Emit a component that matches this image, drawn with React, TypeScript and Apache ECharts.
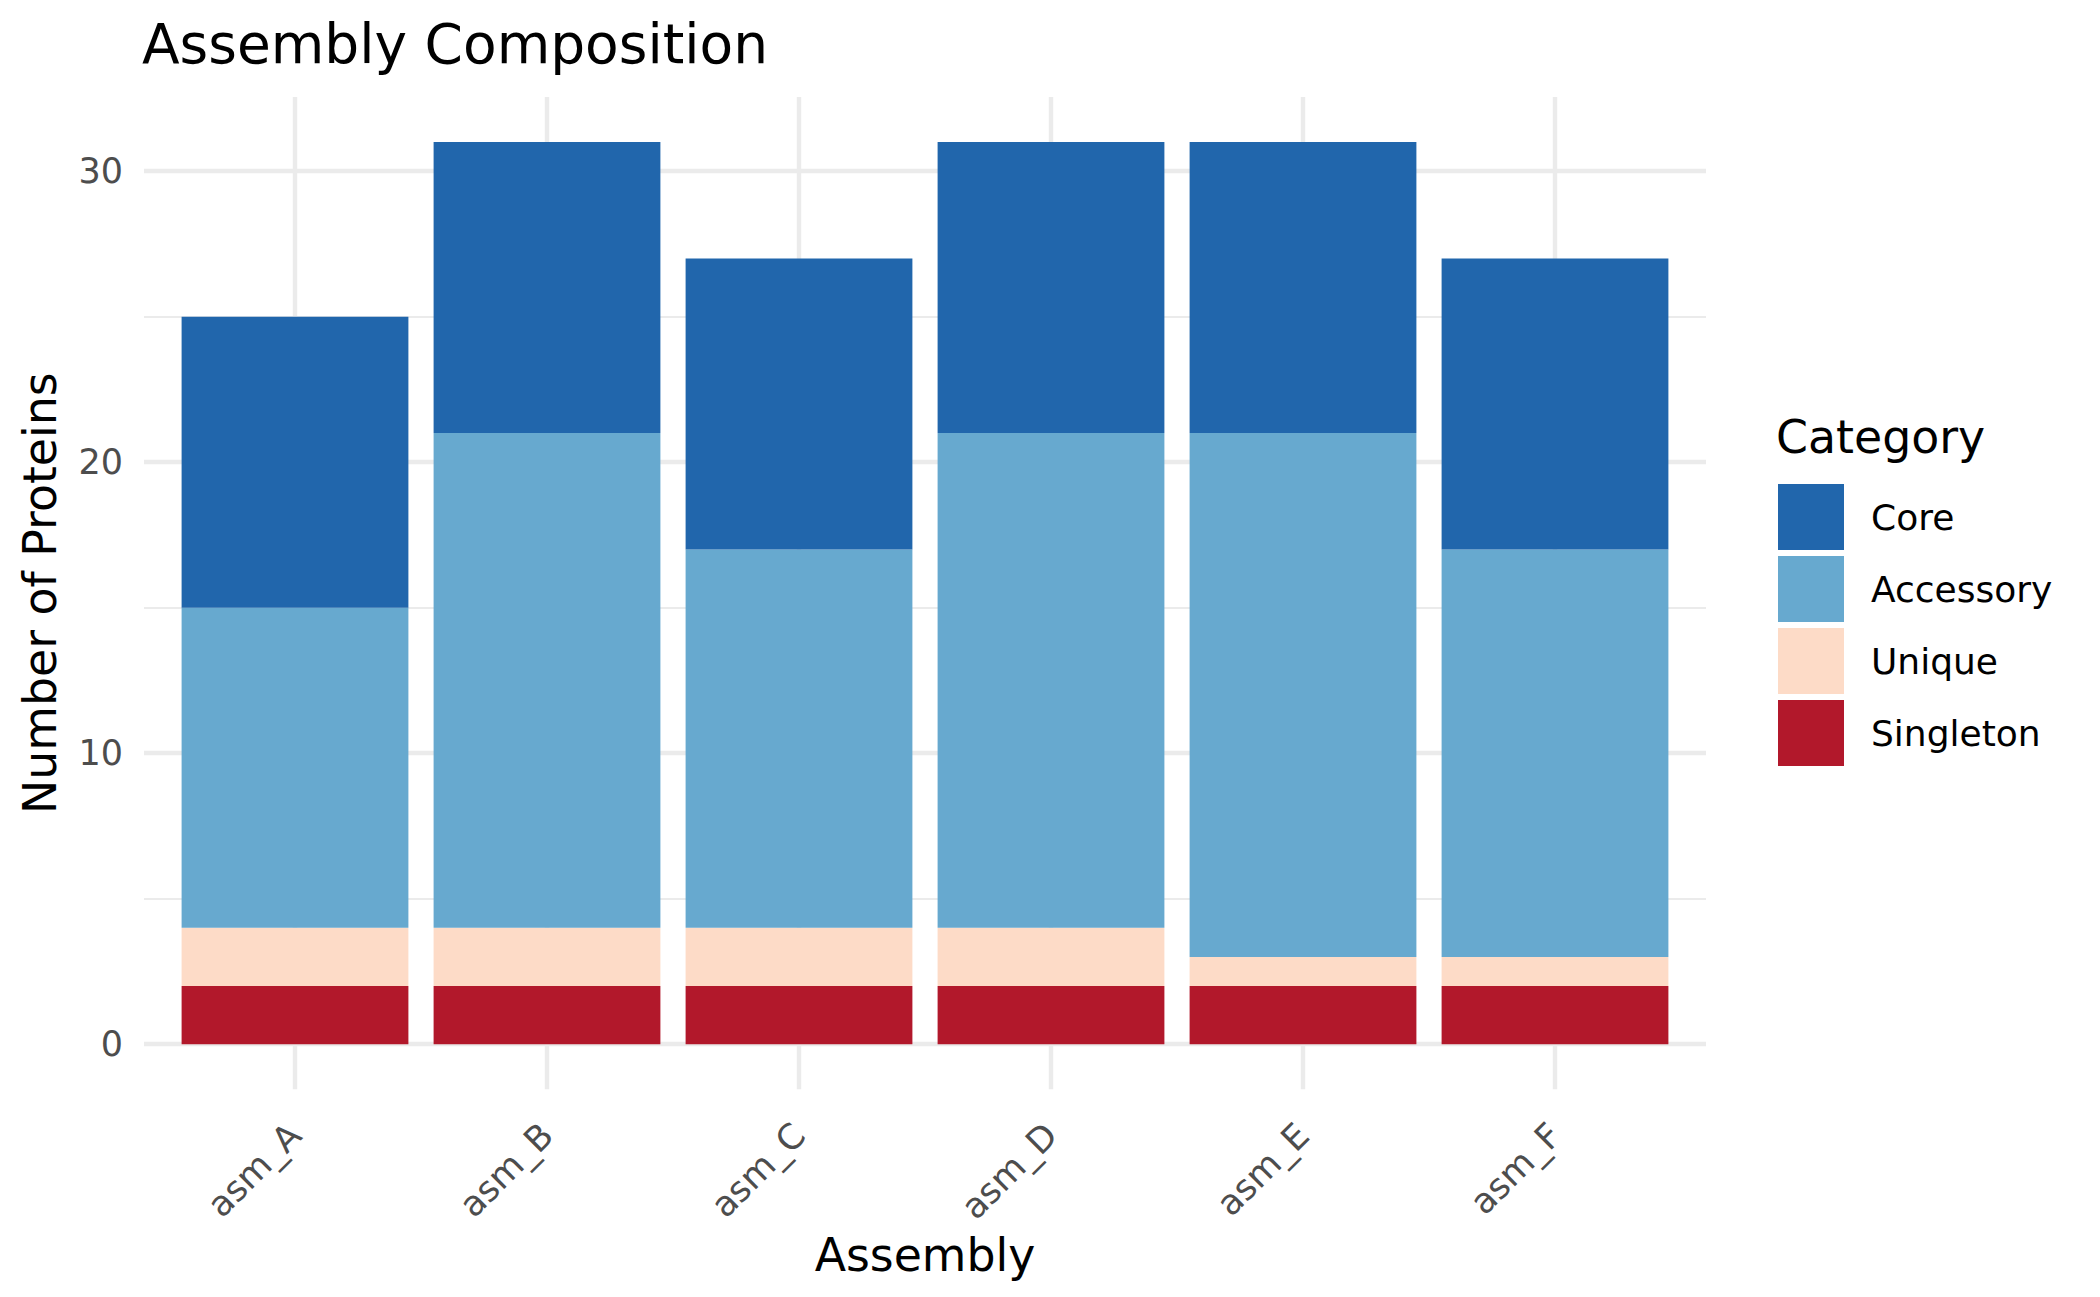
import React, { useEffect, useRef } from 'react';
import * as echarts from 'echarts';

const categories = ['asm_A', 'asm_B', 'asm_C', 'asm_D', 'asm_E', 'asm_F'];
const singleton = [2, 2, 2, 2, 2, 2];
const unique = [2, 2, 2, 2, 1, 1];
const accessory = [11, 17, 13, 17, 18, 14];
const core = [10, 10, 10, 10, 10, 10];
const legendOrder = ['Core', 'Accessory', 'Unique', 'Singleton'];
const colors: Record<string, string> = {
  Core: '#2166AC',
  Accessory: '#67A9CF',
  Unique: '#FDDBC7',
  Singleton: '#B2182B',
};

const FONT = 'DejaVu Sans';
const GRID_COLOR = '#EBEBEB';

export default function App() {
  const ref = useRef<HTMLDivElement>(null);
  useEffect(() => {
    if (!ref.current) return;
    const chart = echarts.init(ref.current, undefined, { renderer: 'svg' });
    const totals = categories.map((_, i) => singleton[i] + unique[i] + accessory[i] + core[i]);
    const maxTotal = Math.max(...totals);
    const yMax = maxTotal * 1.05;
    const yMin = -maxTotal * 0.05;

    const top = 97;
    const unit = 29.1;
    const zeroY = top + yMax * unit;
    const bottomY = zeroY - yMin * unit;
    const H = 1297;
    const W = 2100;

    const mk = (name: string, data: number[]) => ({
      name,
      type: 'bar',
      stack: 'total',
      xAxisIndex: 1,
      yAxisIndex: 2,
      barWidth: '90%',
      data,
      itemStyle: { color: colors[name] },
      emphasis: { disabled: true },
    });

    chart.setOption({
      animation: false,
      backgroundColor: '#FFFFFF',
      title: [
        {
          text: 'Assembly Composition',
          left: 142,
          top: 16.5,
          padding: 0,
          textStyle: { fontFamily: FONT, fontSize: 55, fontWeight: 'normal', color: '#000000' },
        },
        {
          text: 'Category',
          left: 1776,
          top: 414,
          padding: 0,
          textStyle: { fontFamily: FONT, fontSize: 45.8, fontWeight: 'normal', color: '#000000' },
        },
      ],
      legend: {
        data: legendOrder,
        orient: 'vertical',
        left: 1778,
        top: 484,
        padding: 0,
        itemWidth: 66,
        itemHeight: 66,
        itemGap: 6,
        icon: 'rect',
        selectedMode: false,
        textStyle: { fontFamily: FONT, fontSize: 36, color: '#000000', padding: [0, 0, 0, 22] },
      },
      grid: [
        { left: 144, right: W - 1706, top, bottom: H - zeroY, containLabel: false },
        { left: 169, right: W - 1681, top, bottom: H - bottomY, containLabel: false },
      ],
      xAxis: [
        { type: 'value', gridIndex: 0, min: 0, max: 1, show: false },
        {
          type: 'category',
          gridIndex: 1,
          data: categories,
          position: 'bottom',
          name: 'Assembly',
          nameLocation: 'middle',
          nameGap: 137,
          nameTextStyle: { fontFamily: FONT, fontSize: 45.8, color: '#000000' },
          axisLine: { show: false, onZero: false },
          axisTick: {
            show: true,
            alignWithLabel: true,
            inside: true,
            interval: 0,
            length: bottomY - top,
            lineStyle: { color: GRID_COLOR, width: 4.4 },
          },
          splitLine: { show: false },
          axisLabel: {
            interval: 0,
            rotate: 45,
            margin: 40,
            fontFamily: FONT,
            fontSize: 35,
            color: '#4D4D4D',
          },
        },
      ],
      yAxis: [
        {
          type: 'value',
          gridIndex: 0,
          min: 0,
          max: yMax,
          interval: 10,
          axisLine: { show: false },
          axisTick: { show: false },
          axisLabel: {
            margin: 21,
            fontFamily: FONT,
            fontSize: 35,
            color: '#4D4D4D',
            showMaxLabel: false,
            formatter: (v: number) => (Math.abs(v % 10) < 1e-9 ? String(v) : ''),
          },
          splitLine: {
            show: true,
            showMaxLine: false,
            lineStyle: { color: GRID_COLOR, width: 4.4 },
          },
        },
        {
          type: 'value',
          gridIndex: 0,
          min: 0,
          max: yMax,
          interval: 5,
          position: 'left',
          axisLine: { show: false },
          axisTick: { show: false },
          axisLabel: { show: false },
          splitLine: {
            show: true,
            showMaxLine: false,
            lineStyle: { color: GRID_COLOR, width: 2.2 },
          },
        },
        {
          type: 'value',
          gridIndex: 1,
          min: yMin,
          max: yMax,
          position: 'left',
          offset: 169 - 144,
          name: 'Number of Proteins',
          nameLocation: 'middle',
          nameRotate: 90,
          nameGap: 81,
          nameTextStyle: { fontFamily: FONT, fontSize: 45.8, color: '#000000' },
          axisLine: { show: false },
          axisTick: { show: false },
          axisLabel: { show: false },
          splitLine: { show: false },
        },
      ],
      series: [
        mk('Singleton', singleton),
        mk('Unique', unique),
        mk('Accessory', accessory),
        mk('Core', core),
      ],
    });
    return () => chart.dispose();
  }, []);
  return (
    <div
      ref={ref}
      style={{ position: 'fixed', left: 0, top: 0, width: 2100, height: 1297, background: '#fff' }}
    />
  );
}
